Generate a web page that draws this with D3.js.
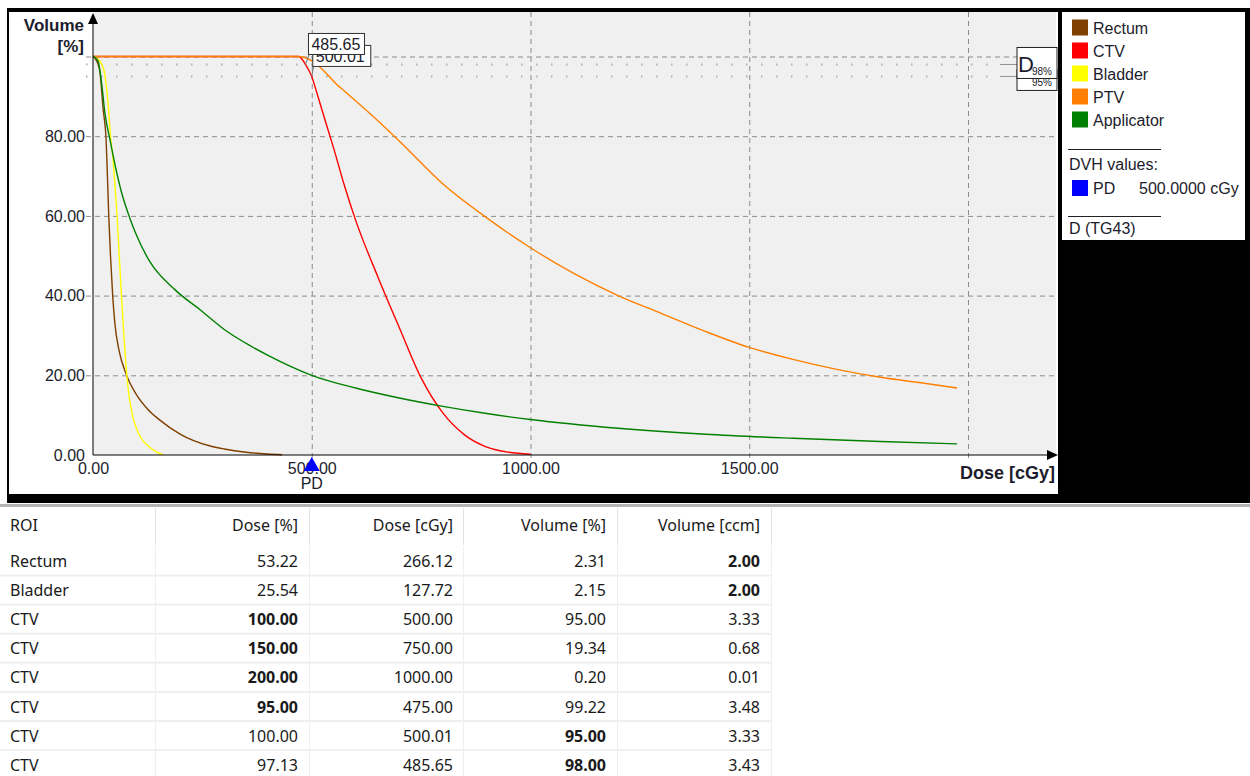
<!DOCTYPE html>
<html>
<head>
<meta charset="utf-8">
<script src="https://cdn.jsdelivr.net/npm/d3@7"></script>
<style>
  body { margin: 0; background: #fff; }
  svg { display: block; }
  .tick text { font-family: "Liberation Sans", Arial, sans-serif; font-size: 16px; fill: #1c1c2c; }
  .tbl { font-family: "Noto Sans", "Open Sans", sans-serif; font-size: 16px; fill: #1a1a1a; }
</style>
</head>
<body>
<svg id="chart" width="1250" height="776"></svg>
<script>
// DVH curves: dose in cGy, volume in %
const rectumDose = [0, 10, 16, 23, 30, 33, 36, 40, 45, 50, 60, 75, 100, 125, 150, 200, 266, 300, 350, 400, 432];
const rectumVol  = [100, 98.5, 96, 87, 79, 70, 60, 50, 40, 33, 26, 20.5, 15, 11.5, 9, 5.2, 2.31, 1.5, 0.7, 0.25, 0.05];

const ctvDose = [0, 470, 480, 485.65, 500, 510, 525, 550, 575, 600, 650, 700, 750, 800, 850, 900, 950, 1000];
const ctvVol  = [100, 100, 99, 98, 95, 91.5, 86, 77, 67.5, 59, 45, 32, 19.34, 10.5, 5, 2, 0.7, 0.2];

const bladderDose = [0, 10, 20, 27, 35, 40, 46, 50, 55, 60, 65, 70, 75, 80, 90, 100, 110, 127.7, 140, 150, 160];
const bladderVol  = [100, 99.5, 98, 95.5, 87.5, 80, 74, 68, 60, 50, 40, 31, 23, 17, 10, 6.5, 4.2, 2.15, 1.1, 0.5, 0.1];

const ptvDose = [0, 470, 490, 512, 525, 557, 575, 650, 700, 800, 900, 1000, 1100, 1200, 1300, 1400, 1500, 1600, 1700, 1800, 1900, 1975];
const ptvVol  = [100, 100, 99.5, 98, 96.7, 93, 91.3, 84, 78.8, 68, 59.5, 52, 45.5, 40, 35.5, 31, 27, 24, 21.5, 19.5, 18, 16.8];

const applDose = [0, 11, 20, 27, 39, 50, 65, 84, 100, 130, 187, 244, 300, 358, 400, 500, 600, 700, 800, 900, 1000, 1200, 1400, 1600, 1800, 1975];
const applVol  = [100, 99, 93, 86, 79, 73, 66, 59.5, 55, 48.5, 41.5, 36.5, 31.5, 27.5, 25, 20, 16.8, 14.3, 12.2, 10.4, 8.9, 6.7, 5.2, 4.2, 3.4, 2.8];

const legendNames  = ["Rectum", "CTV", "Bladder", "PTV", "Applicator"];
const legendColors = ["#804000", "#ff0000", "#ffff00", "#ff8000", "#008000"];

const xTicks = [0, 500, 1000, 1500];
const xGrid  = [500, 1000, 1500, 2000];
const yTicks = [0, 20, 40, 60, 80];
const yGrid  = [20, 40, 60, 80, 100];

const dLevels = [95, 98];          // D95%, D98% markers (drawn in this order)
const pdDose = 500;
const markDose = [500.01, 485.65]; // CTV readouts
const markVol  = [95, 98];

// table
const tableHead   = ["ROI", "Dose [%]", "Dose [cGy]", "Volume [%]", "Volume [ccm]"];
const tableRoi    = ["Rectum", "Bladder", "CTV", "CTV", "CTV", "CTV", "CTV", "CTV"];
const tableDosePc = ["53.22", "25.54", "100.00", "150.00", "200.00", "95.00", "100.00", "97.13"];
const tableDoseCg = ["266.12", "127.72", "500.00", "750.00", "1000.00", "475.00", "500.01", "485.65"];
const tableVolPc  = ["2.31", "2.15", "95.00", "19.34", "0.20", "99.22", "95.00", "98.00"];
const tableVolCc  = ["2.00", "2.00", "3.33", "0.68", "0.01", "3.48", "3.33", "3.43"];
const tableBold   = [4, 4, 1, 1, 1, 1, 3, 3];

const svg = d3.select("#chart");
const font = '"Liberation Sans", Arial, sans-serif';
const ink = "#1c1c2c";

// frame
svg.append("rect").attr("x", 7).attr("y", 8).attr("width", 1243).attr("height", 495).attr("fill", "#000");
svg.append("rect").attr("x", 9).attr("y", 12).attr("width", 1049).attr("height", 482).attr("fill", "#fff");
svg.append("rect").attr("x", 0).attr("y", 504).attr("width", 1250).attr("height", 3).attr("fill", "#b4b4b4");

const plotL = 93, plotR = 1056, plotT = 12, plotB = 455;
const x = d3.scaleLinear().domain([0, 2000]).range([plotL, 968]);
const y = d3.scaleLinear().domain([0, 100]).range([plotB, 56.5]);

svg.append("rect").attr("x", plotL).attr("y", plotT)
  .attr("width", plotR - plotL).attr("height", plotB - plotT).attr("fill", "#f0f0f0");

// grid
const gy = svg.append("g").attr("transform", "translate(86,0)")
  .call(d3.axisRight(y).tickValues(yGrid).tickSize(plotR - 86).tickFormat(""));
gy.select(".domain").remove();
gy.selectAll("line").attr("stroke", "#8c8c8c").attr("stroke-dasharray", "5,4");

const gx = svg.append("g").attr("transform", "translate(0," + plotT + ")")
  .call(d3.axisBottom(x).tickValues(xGrid).tickSize(plotB - plotT + 7).tickFormat(""));
gx.select(".domain").remove();
gx.selectAll("line").attr("stroke", "#8c8c8c").attr("stroke-dasharray", "5,4");

// D98 / D95 dotted levels
dLevels.forEach(v => {
  svg.append("line").attr("x1", 86).attr("x2", 1000).attr("y1", y(v)).attr("y2", y(v))
    .attr("stroke", "#b0b0b0").attr("stroke-width", 2).attr("stroke-dasharray", "1.5,13.5");
  svg.append("line").attr("x1", 1000).attr("x2", 1017).attr("y1", y(v)).attr("y2", y(v))
    .attr("stroke", "#909090");
});

// curves
const line = d3.line().x(d => x(d[0])).y(d => y(d[1])).curve(d3.curveMonotoneX);
const series = [
  [rectumDose, rectumVol, legendColors[0]],
  [bladderDose, bladderVol, legendColors[2]],
  [ctvDose, ctvVol, legendColors[1]],
  [ptvDose, ptvVol, legendColors[3]],
  [applDose, applVol, legendColors[4]]
];
series.forEach(s => {
  svg.append("path").datum(d3.zip(s[0], s[1]))
    .attr("d", line).attr("fill", "none").attr("stroke", s[2]).attr("stroke-width", 1.4);
});

// axes
const ay = svg.append("g").attr("transform", "translate(" + plotL + ",0)")
  .call(d3.axisLeft(y).tickValues(yTicks).tickSize(0).tickPadding(8).tickFormat(d3.format(".2f")));
ay.select(".domain").remove();
const ax = svg.append("g").attr("transform", "translate(0," + plotB + ")")
  .call(d3.axisBottom(x).tickValues(xTicks).tickSize(0).tickPadding(8).tickFormat(d3.format(".2f")));
ax.select(".domain").remove();
ax.selectAll("text").attr("dy", "0.71em");

svg.append("line").attr("x1", plotL).attr("x2", plotL).attr("y1", 16).attr("y2", plotB).attr("stroke", "#000");
svg.append("line").attr("x1", plotL).attr("x2", 1052).attr("y1", plotB).attr("y2", plotB).attr("stroke", "#000");
svg.append("path").attr("d", `M${plotL},13 L${plotL - 5},24 L${plotL + 5},24 Z`).attr("fill", "#000");
svg.append("path").attr("d", `M1058,${plotB} L1047,${plotB - 5} L1047,${plotB + 5} Z`).attr("fill", "#000");

svg.append("text").attr("x", 84).attr("y", 31).attr("text-anchor", "end")
  .attr("font-family", font).attr("font-size", 17).attr("font-weight", "bold").attr("fill", ink).text("Volume");
svg.append("text").attr("x", 84).attr("y", 52).attr("text-anchor", "end")
  .attr("font-family", font).attr("font-size", 17).attr("font-weight", "bold").attr("fill", ink).text("[%]");
svg.append("text").attr("x", 1055).attr("y", 479).attr("text-anchor", "end")
  .attr("font-family", font).attr("font-size", 18).attr("font-weight", "bold").attr("fill", ink).text("Dose [cGy]");

// PD marker
const pdx = x(pdDose);
svg.append("path").attr("d", `M${pdx},457 L${pdx - 8},471 L${pdx + 8},471 Z`).attr("fill", "#0000ff");
svg.append("text").attr("x", pdx).attr("y", 489).attr("text-anchor", "middle")
  .attr("font-family", font).attr("font-size", 16).attr("fill", ink).text("PD");

// CTV readout boxes
const boxOff = [[1, -31, 58], [3, -31, 56]]; // dx, dy(top), width
markDose.forEach((d, i) => {
  const px = x(d), py = y(markVol[i]);
  const bx = px + boxOff[i][0], by = py + boxOff[i][1];
  svg.append("line").attr("x1", px).attr("y1", py).attr("x2", bx + 1).attr("y2", by + 20).attr("stroke", "#707070");
  svg.append("rect").attr("x", bx).attr("y", by).attr("width", boxOff[i][2]).attr("height", 21)
    .attr("fill", "#fff").attr("stroke", "#303030");
  svg.append("text").attr("x", bx + 3).attr("y", by + 16.5)
    .attr("font-family", font).attr("font-size", 16).attr("fill", ink).text(d.toFixed(2));
});

// D boxes: the D95% box sits under the D98% one, only its subscript peeks out
dLevels.forEach((v, i) => {
  const cy = y(v) - 1.5;
  const top = i === 0 ? 70 : cy - 15.5;
  svg.append("rect").attr("x", 1017).attr("y", top).attr("width", 40).attr("height", cy + 15.5 - top)
    .attr("fill", "#fff").attr("stroke", "#202020");
  if (i === 1) {
    svg.append("text").attr("x", 1018).attr("y", cy + 9)
      .attr("font-family", font).attr("font-size", 22).attr("fill", ink).text("D");
    svg.append("text").attr("x", 1032).attr("y", cy + 12)
      .attr("font-family", font).attr("font-size", 10).attr("fill", ink).text(v + "%");
  } else {
    svg.append("text").attr("x", 1032).attr("y", cy + 11)
      .attr("font-family", font).attr("font-size", 10).attr("fill", ink).text(v + "%");
  }
});

// legend
const lg = svg.append("g");
lg.append("rect").attr("x", 1062).attr("y", 12).attr("width", 183).attr("height", 228).attr("fill", "#fff");
legendNames.forEach((n, i) => {
  const cy = 27.5 + i * 23;
  lg.append("rect").attr("x", 1072).attr("y", cy - 8).attr("width", 16).attr("height", 16).attr("fill", legendColors[i]);
  lg.append("text").attr("x", 1093).attr("y", cy + 6)
    .attr("font-family", font).attr("font-size", 16).attr("fill", ink).text(n);
});
lg.append("line").attr("x1", 1068).attr("x2", 1161).attr("y1", 149.5).attr("y2", 149.5).attr("stroke", "#222");
lg.append("text").attr("x", 1069).attr("y", 170).attr("font-family", font).attr("font-size", 16).attr("fill", ink).text("DVH values:");
lg.append("rect").attr("x", 1072).attr("y", 180).attr("width", 16).attr("height", 16).attr("fill", "#0000ff");
lg.append("text").attr("x", 1093).attr("y", 194).attr("font-family", font).attr("font-size", 16).attr("fill", ink).text("PD");
lg.append("text").attr("x", 1139).attr("y", 194).attr("font-family", font).attr("font-size", 16).attr("fill", ink)
  .text(pdDose.toFixed(4) + " cGy");
lg.append("line").attr("x1", 1068).attr("x2", 1161).attr("y1", 216.5).attr("y2", 216.5).attr("stroke", "#222");
lg.append("text").attr("x", 1069).attr("y", 234).attr("font-family", font).attr("font-size", 16).attr("fill", ink).text("D (TG43)");

// table
const colSep = [155, 309, 463, 617, 771];
const colRight = [null, 298, 453, 606, 760];
const rowY = i => 561.5 + i * 29.1;
const tb = svg.append("g");
colSep.forEach(c => {
  tb.append("line").attr("x1", c + 0.5).attr("x2", c + 0.5).attr("y1", 508).attr("y2", 545).attr("stroke", "#e3e3e3");
  tb.append("line").attr("x1", c + 0.5).attr("x2", c + 0.5).attr("y1", 547).attr("y2", 776).attr("stroke", "#efefef");
});
tableRoi.forEach((r, i) => {
  tb.append("line").attr("x1", 0).attr("x2", 772).attr("y1", rowY(i) + 14).attr("y2", rowY(i) + 14)
    .attr("stroke", "#efefef").attr("stroke-width", 2);
});
tableHead.forEach((h, j) => {
  tb.append("text").attr("class", "tbl").attr("x", j === 0 ? 10 : colRight[j]).attr("y", 531)
    .attr("text-anchor", j === 0 ? "start" : "end").text(h);
});
const cols = [tableRoi, tableDosePc, tableDoseCg, tableVolPc, tableVolCc];
tableRoi.forEach((r, i) => {
  cols.forEach((c, j) => {
    tb.append("text").attr("class", "tbl").attr("x", j === 0 ? 10 : colRight[j]).attr("y", rowY(i) + 5.5)
      .attr("text-anchor", j === 0 ? "start" : "end")
      .attr("font-weight", tableBold[i] === j ? "bold" : null).text(c[i]);
  });
});
</script>
</body>
</html>
